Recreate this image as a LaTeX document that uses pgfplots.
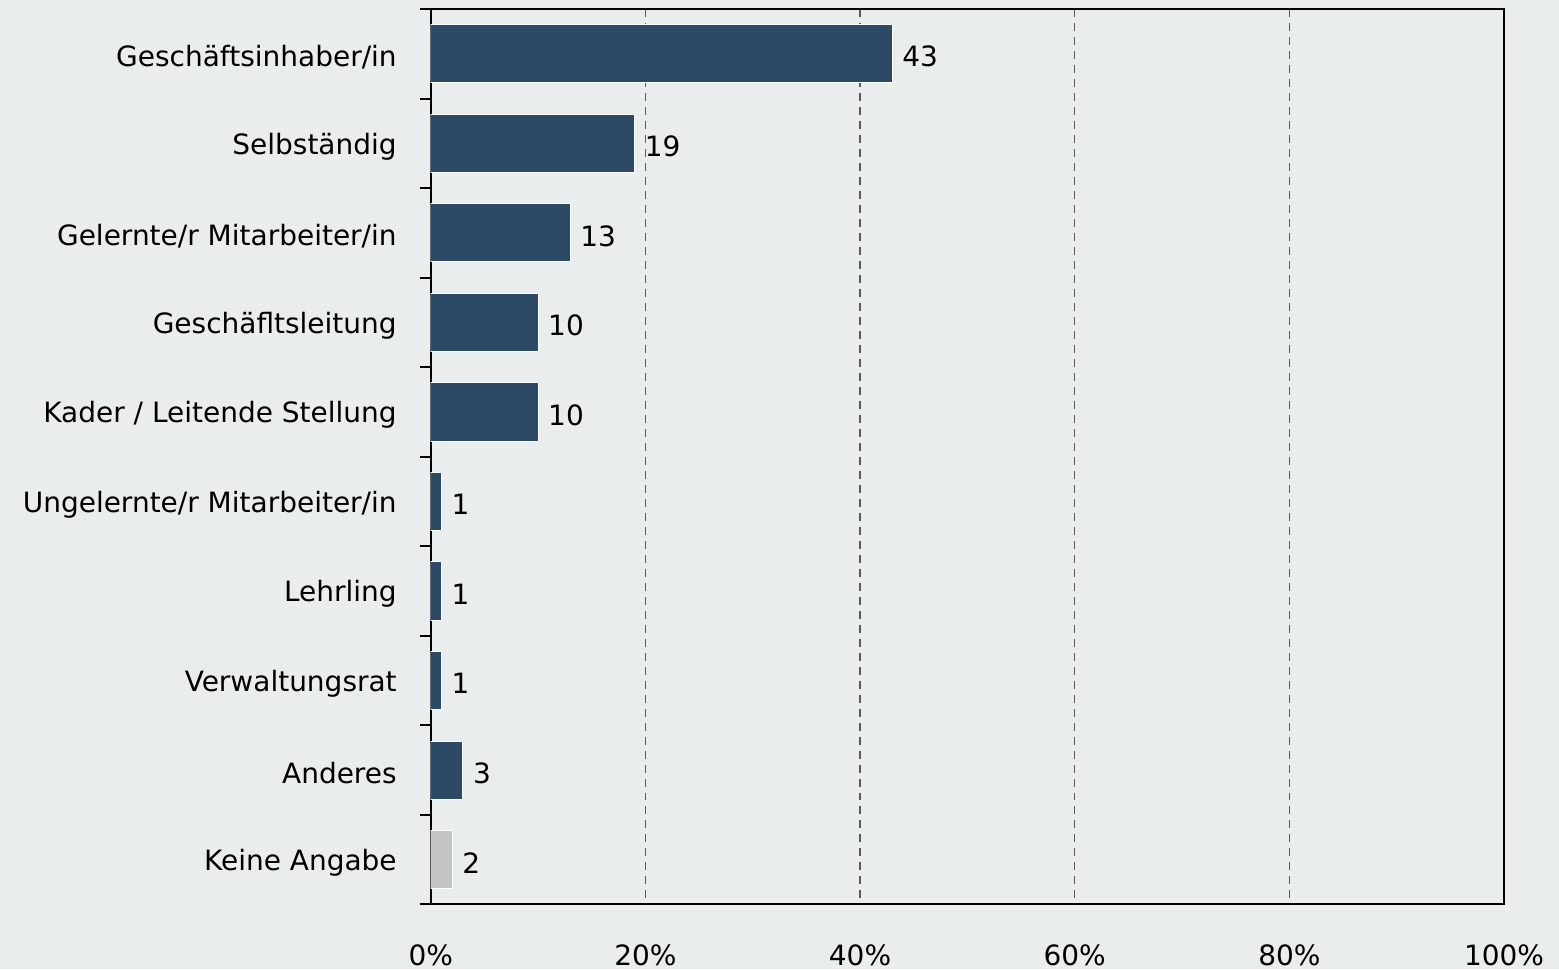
\documentclass[border=0pt]{standalone}
\usepackage{fontspec}
\setmainfont{DejaVu Sans}
\usepackage{pgfplots}
\pgfplotsset{compat=1.18}
\definecolor{bgc}{HTML}{E9EDED}
\definecolor{barc}{HTML}{2C4A66}
\definecolor{grayc}{HTML}{C3C3C3}
\definecolor{gridc}{HTML}{5A5A5A}
\begin{document}
\begin{tikzpicture}
\fill[bgc] (-215.5pt,-32.5pt) rectangle (564.5pt,452.5pt);
\begin{axis}[
    at={(0,0)}, anchor=south west,
    scale only axis,
    width=537pt, height=448pt,
    xmin=0, xmax=100,
    ymin=-0.5, ymax=9.5,
    y dir=reverse,
    axis line style={line width=1pt, black},
    xtick={0,20,40,60,80,100},
    xticklabel={\pgfmathprintnumber{\tick}\%},
    xtick pos=bottom,
    xtick style={draw=none},
    xticklabel style={yshift=-11pt},
    % ticks sit on the category boundaries, labels are moved to the middle
    ytick={-0.5,0.5,...,9.5},
    yticklabels={Geschäftsinhaber/in, Selbständig, Gelernte/r Mitarbeiter/in, Geschäfltsleitung, Kader / Leitende Stellung, Ungelernte/r Mitarbeiter/in, Lehrling, Verwaltungsrat, Anderes, Keine Angabe, {}},
    ytick pos=left,
    major tick length=5.5pt,
    tick align=outside,
    ytick style={draw=black, line width=1pt},
    yticklabel style={xshift=-8pt, yshift=-23.9pt},
    xmajorgrids,
    grid style={gridc, dashed, dash pattern=on 4pt off 3pt, line width=0.6pt},
    tick label style={font=\fontsize{14}{17}\selectfont},
    /pgf/number format/assume math mode=true,
    bar width=0.65,
    nodes near coords,
    point meta=x,
    every node near coord/.append style={font=\fontsize{14}{17}\selectfont, black, xshift=1.5pt, yshift=-1.5pt},
]
\addplot[xbar, bar shift=0pt, fill=barc, draw=white, line width=0.5pt] coordinates {
(43,0) (19,1) (13,2) (10,3) (10,4) (1,5) (1,6) (1,7) (3,8)};
\addplot[xbar, bar shift=0pt, fill=grayc, draw=white, line width=0.5pt] coordinates {
(2,9)};
\end{axis}
\pgfresetboundingbox
\path (-215.5pt,-32.5pt) rectangle (564.5pt,452.5pt);
\end{tikzpicture}
\end{document}
